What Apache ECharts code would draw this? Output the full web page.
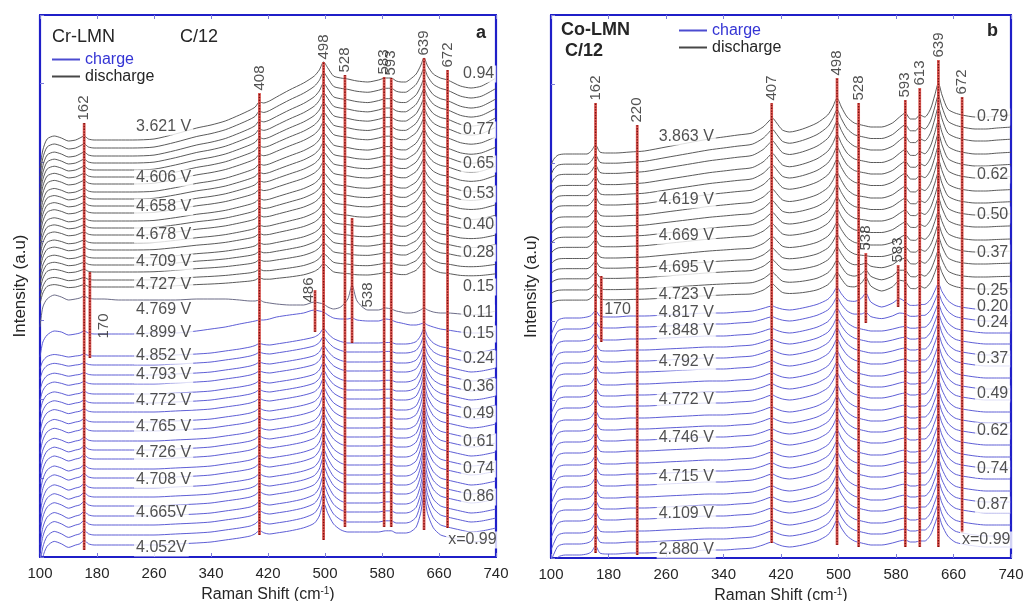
<!DOCTYPE html>
<html><head><meta charset="utf-8">
<script src="https://cdn.jsdelivr.net/npm/echarts/dist/echarts.min.js"></script>
<style>html,body{margin:0;padding:0;background:#fff}#c{width:1025px;height:601px}</style>
</head><body><div id="c"></div>
<script>
// ---------- DATA ----------
// common Raman-shift sampling grid (cm-1)
const raman = [100,104,110,120,130,140,150,156,
  162,168,176,190,210,230,260,290,
  320,340,360,380,395,402,408,414,
  422,432,450,470,485,492,498,504,
  512,522,532,538,545,560,575,585,
  593,600,607,613,620,628,634,639,
  644,652,662,672,690,705,720,740];

// Panel a (Cr-LMN), discharge: broad background and peak shape
const baseA_dis = [0,0,0,0,0,0,0,0, 0,0,0,0,0,0,1,6, 12,15,19,25,30,32,34,36,
  39,43,50,55,57,58,58,58, 58,58,58,58,58,57,57,57, 57,56,56,56,56,57,57,58, 57,56,57,56,52,50,52,60];
const pkA_dis = [-28,-10,1,4,2,-1,0,2, 4,1,0,0,0,0,0,0, 0,0,0,0,0,1,4,1,
  0,0,0,2,7,12,20,14, 6,4,3,2,1,1,3,5, 5,3,2,2,5,9,17,24, 17,10,5,4,2,2,2,2];
const levelsA_dis = [417,409,401,394,387,380,373,365,358,351,344,336,329,322,314,307,299,292,285,277,270];
const tiltA_dis = [1,0.96,0.92,0.88,0.84,0.8,0.76,0.72,0.68,0.64,0.6,0.56,0.52,0.48,0.44,0.4,0.36,0.32,0.28,0.24,0.2];
const pkScaleA_dis = [1,1,0.98,0.96,0.94,0.92,0.9,0.88,0.86,0.84,0.82,0.8,0.78,0.76,0.74,0.72,0.7,0.68,0.66,0.64,0.6];
// transition spectra (4.769 V and 4.899 V)
const specA_4769 = [230,250,258,262,260,257,258,259, 261,259,258,258,257,257,257,257, 258,258,258,257,256,256,257,255,
  254,253,252,252,255,254,253,250, 248,250,258,272,256,247,247,249, 248,246,245,244,244,245,247,249, 247,245,244,244,243,242,243,246];
const specA_4899 = [200,215,222,226,225,222,223,224, 226,224,223,223,223,223,224,224, 226,228,230,233,235,236,237,237,
  238,240,242,244,247,246,245,242, 239,238,238,239,237,236,236,238, 237,235,234,233,232,232,233,234, 232,230,228,227,225,224,224,226];
// Panel a, charge
const baseA_chg = [0,0,0,0,0,0,0,0, 0,0,0,0,0,0,0,1, 2,3,5,7,9,10,11,11,
  11,12,14,16,17,17,17,16, 15,14,13,13,13,13,13,13, 13,12,12,12,12,12,12,12, 11,10,9,8,5,3,4,7];
const pkA_chg = [-25,-10,-1,3,1,-2,0,1, 4,1,0,0,0,0,0,0, 0,0,0,0,0,1,3,1,
  0,0,0,1,4,10,21,13, 5,1,0,0,0,0,0,1, 1,0,0,0,1,5,16,31, 17,6,1,0,0,0,0,0];
const levelsA_chg = [201,192,182,173,163,154,145,135,126,116,107,98,88,79,69,60,51,41,32,22,12];
const tiltA_chg = [1,1,1,1,1,1,1,1,1,1,1,1,1,1,1,1,1,1,1,1,1];
const pkScaleA_chg = [0.5,0.55,0.6,0.65,0.7,0.75,0.8,0.85,0.9,0.9,0.95,1,1,1.05,1.05,1.1,1.1,1.15,1.15,1.2,1.2];

// Panel b (Co-LMN), discharge
const baseB_dis = [-28,-22,-18,-17,-17,-17,-17,-17, -17,-17,-16,-16,-15,-14,-10,-6, -2,0,2,4,6,7,7,7,
  6,5,8,12,14,15,15,14, 13,12,11,10,10,10,12,14, 15,15,16,17,18,19,20,20, 20,20,21,21,20,20,21,22];
const pkB_dis = [0,0,0,0,0,0,0,3, 9,2,0,0,0,0,0,0, 0,0,0,0,4,8,12,7,
  1,0,0,2,8,15,24,16, 7,2,1,1,0,0,2,6, 9,3,2,5,2,9,22,34, 22,8,3,1,0,0,0,0];
const levelsB_dis = [421,410,399,387,376,365,353,342,331,320,308,297,286,274,263];
const tiltB_dis = [1,0.95,0.9,0.85,0.8,0.75,0.7,0.65,0.6,0.55,0.5,0.45,0.4,0.35,0.3];
const pkScaleB_dis = [1,1,1,0.98,0.96,0.94,0.92,0.9,0.88,0.86,0.84,0.82,0.8,0.78,0.75];
// Panel b, charge
const baseB_chg = [-22,-15,-7,-5,-5,-5,-4,-4, -4,-4,-4,-4,-3,-3,-2,-1, 0,0,1,2,3,3,3,3,
  3,3,5,7,8,8,8,8, 8,7,6,6,5,5,6,6, 6,6,6,6,7,7,7,7, 7,7,6,5,4,3,3,3];
const pkB_chg = [0,0,0,0,0,0,0,2, 8,1,0,0,0,0,0,0, 0,0,0,0,2,4,5,3,
  1,0,0,2,7,14,22,14, 6,2,1,0,0,0,1,3, 4,2,2,3,2,8,19,28, 18,7,2,1,0,0,0,0];
const levelsB_chg = [245,234,222,211,200,189,177,166,155,143,132,121,110,98,87,76,64,53,42,30,19,8];
const tiltB_chg = [1,1,1,1,1,1,1,1,1,1,1,1,1,1,1,1,1,1,1,1,1,1];
const pkScaleB_chg = [0.8,0.85,0.9,0.95,1,1,1,1,1,1,1,1,1,1,1,1,1,1,1,1,1,1];
// extra 538 / 583 features near the end of discharge / start of charge
const bumpB = [0,0,0,0,0,0,0,0, 0,0,0,0,0,0,0,0, 0,0,0,0,0,0,0,0,
  0,0,0,0,0,0,0,0, 0,3,8,14,6,1,3,6, 2,0,0,0,0,0,0,0, 0,0,0,0,0,0,0,0];
const bumpWB_dis = [0,0,0,0,0,0,0,0,0,0,0,0,0.3,0.7,1];
const bumpWB_chg = [1,0.4,0,0,0,0,0,0,0,0,0,0,0,0,0,0,0,0,0,0,0,0];

// peak marker lines (Raman shift, top and bottom intensity)
const peaksA = [162,170,408,486,498,528,538,583,593,639,672];
const peakTopA = [434,285,464,267,495,482,339,480,479,499,487];
const peakBotA = [7,199,22,225,17,30,214,30,30,27,29];
const peakTopLabelA = ['162','','408','','498','528','','583','593','639','672'];
const sideLabA = ['170','486','538'];
const sideLabRA = [189,477,560];
const sideLabHA = [231,267,262];

const peaksB = [162,170,220,407,498,528,538,583,593,613,639,672];
const peakTopB = [455,282,433,455,480,455,305,293,458,470,498,461];
const peakBotB = [5,216,3,15,13,11,235,251,11,11,11,25];
const peakTopLabelB = ['162','','220','407','498','528','538','583','593','613','639','672'];
const sideLabB = ['170'];
const sideLabRB = [174];
const sideLabHB = [248];

// voltage labels (left) and Li content labels (right)
const voltA = ['3.621 V','4.606 V','4.658 V','4.678 V','4.709 V','4.727 V','4.769 V','4.899 V','4.852 V','4.793 V','4.772 V','4.765 V','4.726 V','4.708 V','4.665V','4.052V'];
const voltHA = [430,379,350,322,295,272,247,224,201,182,156,130,104,77,44,9];
const xLabA = ['0.94','0.77','0.65','0.53','0.40','0.28','0.15','0.11','0.15','0.24','0.36','0.49','0.61','0.74','0.86'];
const xLabHA = [483,427,393,363,332,304,270,244,223,198,170,143,115,88,60];
const voltB = ['3.863 V','4.619 V','4.669 V','4.695 V','4.723 V','4.817 V','4.848 V','4.792 V','4.772 V','4.746 V','4.715 V','4.109 V','2.880 V'];
const voltHB = [421,358,322,290,263,245,227,196,158,120,81,44,8];
const xLabB = ['0.79','0.62','0.50','0.37','0.25','0.20','0.24','0.37','0.49','0.62','0.74','0.87'];
const xLabHB = [441,383,343,305,267,251,235,199,164,127,89,53];
const xEndLab = 'x=0.99';
const xEndHA = 17, xEndHB = 18;

// ---------- CHART ----------
const FONT = '"Liberation Sans", Arial, sans-serif';
const BLACK = '#474747', BLUE = '#4c4cd0', FRAME = '#1f1fc8', TXT = '#262626';
const series = [];

function addCurves(g, levels, tilts, pks, base, peak, color, name, bumpW, bump) {
  levels.forEach((lv, i) => {
    series.push({
      type: 'line', name: name, xAxisIndex: g * 2, yAxisIndex: g * 2,
      data: raman.map((r, j) => [r, lv + tilts[i] * base[j] + pks[i] * peak[j] + (bumpW ? bumpW[i] * bump[j] : 0)]),
      showSymbol: false, symbol: 'none', smooth: 0.25, silent: true, animation: false,
      lineStyle: { color: color, width: 0.9 }, itemStyle: { color: color }, z: 2
    });
  });
}
function addSingle(g, arr, color, name) {
  series.push({
    type: 'line', name: name, xAxisIndex: g * 2, yAxisIndex: g * 2,
    data: raman.map((r, j) => [r, arr[j]]),
    showSymbol: false, symbol: 'none', smooth: 0.25, silent: true, animation: false,
    lineStyle: { color: color, width: 0.9 }, itemStyle: { color: color }, z: 2
  });
}
function addPeakLines(g, pos, top, bot, topLab) {
  pos.forEach((r, i) => {
    const d = [[r, bot[i]], [r, top[i]]];
    series.push({ type: 'line', name: 'pk', xAxisIndex: g*2, yAxisIndex: g*2, data: d, symbol: 'none',
      silent: true, animation: false, z: 5, lineStyle: { color: '#dc5a54', width: 2.8 } });
    series.push({ type: 'line', name: 'pk', xAxisIndex: g*2, yAxisIndex: g*2, data: d, symbol: 'none',
      silent: true, animation: false, z: 6, lineStyle: { color: '#7a0c0c', width: 1.4, type: [1.4, 1.4] } });
  });
  series.push({ type: 'scatter', name: 'pklab', xAxisIndex: g*2, yAxisIndex: g*2, symbolSize: 1,
    itemStyle: { color: 'rgba(0,0,0,0)' }, silent: true, animation: false, z: 8,
    data: pos.map((r, i) => ({ value: [r, top[i]], name: topLab[i] })).filter(d => d.name),
    label: { show: true, formatter: '{b}', position: 'top', distance: 2, rotate: 90, align: 'left',
      verticalAlign: 'middle', fontSize: 15, color: TXT, fontFamily: FONT } });
}
function addText(g, items, lab) {
  series.push({ type: 'scatter', name: 'txt', xAxisIndex: g*2, yAxisIndex: g*2, symbolSize: 1,
    itemStyle: { color: 'rgba(0,0,0,0)' }, silent: true, animation: false, z: 9,
    data: items, label: Object.assign({ show: true, formatter: '{b}', position: 'inside',
      fontSize: 16, color: TXT, fontFamily: FONT }, lab) });
}

// curves
addCurves(0, levelsA_dis, tiltA_dis, pkScaleA_dis, baseA_dis, pkA_dis, BLACK, 'discharge');
addSingle(0, specA_4769, '#5a5a78', 'discharge');
addSingle(0, specA_4899, BLUE, 'charge');
addCurves(0, levelsA_chg, tiltA_chg, pkScaleA_chg, baseA_chg, pkA_chg, BLUE, 'charge');
addCurves(1, levelsB_dis, tiltB_dis, pkScaleB_dis, baseB_dis, pkB_dis, BLACK, 'discharge', bumpWB_dis, bumpB);
addCurves(1, levelsB_chg, tiltB_chg, pkScaleB_chg, baseB_chg, pkB_chg, BLUE, 'charge', bumpWB_chg, bumpB);

// peak lines
addPeakLines(0, peaksA, peakTopA, peakBotA, peakTopLabelA);
addPeakLines(1, peaksB, peakTopB, peakBotB, peakTopLabelB);
addText(0, sideLabA.map((t, i) => ({ value: [sideLabRA[i], sideLabHA[i]], name: t })),
  { rotate: 90, align: 'center', verticalAlign: 'middle', fontSize: 15 });
addText(1, sideLabB.map((t, i) => ({ value: [sideLabRB[i], sideLabHB[i]], name: t })),
  { align: 'left', verticalAlign: 'middle', fontSize: 16 });

// voltage & composition labels
const whiteBox = { backgroundColor: '#fff', padding: [1, 2, 0, 2] };
addText(0, voltA.map((t, i) => ({ value: [232, voltHA[i]], name: t })), Object.assign({ align: 'left', verticalAlign: 'middle' }, whiteBox));
addText(0, xLabA.map((t, i) => ({ value: [691, xLabHA[i]], name: t })), Object.assign({ align: 'left', verticalAlign: 'middle' }, whiteBox));
addText(0, [{ value: [670, xEndHA], name: xEndLab }], Object.assign({ align: 'left', verticalAlign: 'middle' }, whiteBox));
addText(1, voltB.map((t, i) => ({ value: [247, voltHB[i]], name: t })), Object.assign({ align: 'left', verticalAlign: 'middle' }, whiteBox));
addText(1, xLabB.map((t, i) => ({ value: [690, xLabHB[i]], name: t })), Object.assign({ align: 'left', verticalAlign: 'middle' }, whiteBox));
addText(1, [{ value: [669, xEndHB], name: xEndLab }], Object.assign({ align: 'left', verticalAlign: 'middle' }, whiteBox));

function xAxes(g) {
  const common = { type: 'value', gridIndex: g, min: 100, max: 740, interval: 80, splitLine: { show: false },
    axisLine: { show: true, onZero: false, lineStyle: { color: FRAME, width: 2.2 } },
    axisTick: { show: true, inside: true, length: 4, lineStyle: { color: '#7d7dd8', width: 1 } } };
  return [
    Object.assign({}, common, { position: 'bottom',
      axisLabel: { show: true, fontSize: 15, color: TXT, fontFamily: FONT, margin: 9 },
      name: 'Raman Shift (cm{s|-1})', nameLocation: 'middle', nameGap: 22,
      nameTextStyle: { fontSize: 16, color: TXT, fontFamily: FONT,
        rich: { s: { fontSize: 10, color: TXT, fontFamily: FONT, padding: [0, 0, 8, 0] } } } }),
    Object.assign({}, common, { position: 'top', axisLabel: { show: false } })
  ];
}
function yAxes(g, max, gap) {
  const common = { type: 'value', gridIndex: g, min: 0, max: max, interval: 79, splitLine: { show: false },
    axisLabel: { show: false },
    axisLine: { show: true, onZero: false, lineStyle: { color: FRAME, width: 2.2 } },
    axisTick: { show: true, inside: true, length: 4, lineStyle: { color: '#7d7dd8', width: 1 } } };
  return [
    Object.assign({}, common, { position: 'left', name: 'Intensity (a.u)', nameLocation: 'middle',
      nameGap: gap, nameRotate: 90, nameTextStyle: { fontSize: 17, color: TXT, fontFamily: FONT } }),
    Object.assign({}, common, { position: 'right', axisTick: { show: false } })
  ];
}

const legendCommon = { orient: 'vertical', itemGap: 0, itemWidth: 28, itemHeight: 2, icon: 'rect',
  selectedMode: false, padding: 0,
  textStyle: { fontSize: 16, fontFamily: FONT, lineHeight: 17 } };

const option = {
  backgroundColor: '#fff',
  animation: false,
  grid: [
    { left: 40, right: 529, top: 15, bottom: 44, outerBoundsMode: 'none' },
    { left: 551, right: 14, top: 15, bottom: 43, outerBoundsMode: 'none' }
  ],
  xAxis: xAxes(0).concat(xAxes(1)),
  yAxis: yAxes(0, 542, 11).concat(yAxes(1, 543, 11)),
  legend: [
    Object.assign({}, legendCommon, { left: 52, top: 51,
      data: [{ name: 'charge', textStyle: { color: '#3434d4' } }, { name: 'discharge', textStyle: { color: TXT } }] }),
    Object.assign({}, legendCommon, { left: 679, top: 22,
      data: [{ name: 'charge', textStyle: { color: '#3434d4' } }, { name: 'discharge', textStyle: { color: TXT } }] })
  ],
  title: [
    { text: 'Cr-LMN', left: 52, top: 28, padding: 0, textStyle: { fontSize: 18, fontWeight: 'normal', color: TXT, fontFamily: FONT } },
    { text: 'C/12', left: 180, top: 28, padding: 0, textStyle: { fontSize: 18, fontWeight: 'normal', color: TXT, fontFamily: FONT } },
    { text: 'a', left: 476, top: 24, padding: 0, textStyle: { fontSize: 18, fontWeight: 'bold', color: TXT, fontFamily: FONT } },
    { text: 'Co-LMN', left: 561, top: 21, padding: 0, textStyle: { fontSize: 18, fontWeight: 'bold', color: TXT, fontFamily: FONT } },
    { text: 'C/12', left: 565, top: 42, padding: 0, textStyle: { fontSize: 18, fontWeight: 'bold', color: TXT, fontFamily: FONT } },
    { text: 'b', left: 987, top: 22, padding: 0, textStyle: { fontSize: 18, fontWeight: 'bold', color: TXT, fontFamily: FONT } }
  ],
  series: series
};
const chart = echarts.init(document.getElementById('c'), null, { renderer: 'canvas' });
chart.setOption(option);
</script></body></html>
